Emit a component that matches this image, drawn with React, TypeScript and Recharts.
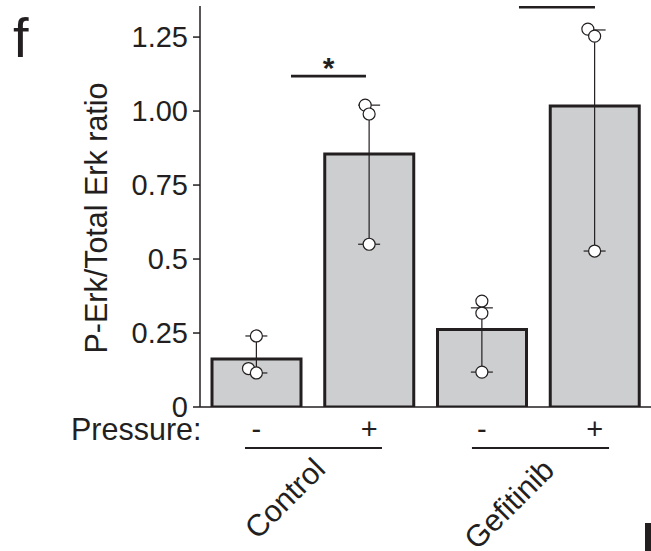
import {
  Bar,
  ComposedChart,
  Customized,
  ErrorBar,
  ReferenceLine,
  Scatter,
  XAxis,
  YAxis,
} from "recharts";

const INK = "#231f20";
const BAR_FILL = "#cdcecf";
const FONT = "'Liberation Sans', Arial, Helvetica, sans-serif";

// bars: category keys, their pressure labels and numeric positions
const categories = ["Control -", "Control +", "Gefitinib -", "Gefitinib +"];
const pressureLabels = ["-", "+", "-", "+"];
const positions = [0, 1, 2, 3];

// bar means and error ranges
const means = [0.162, 0.855, 0.262, 1.017];
const rangeLow = [0.115, 0.55, 0.118, 0.527];
const rangeHigh = [0.24, 1.02, 0.335, 1.274];

// individual replicates (x = bar position with a little jitter)
const pointX = [0, -0.07, 0, 0.965, 1, 1, 2, 2, 2, 2.94, 3, 3];
const pointY = [0.24, 0.13, 0.115, 1.02, 0.99, 0.55, 0.358, 0.317, 0.118, 1.277, 1.253, 0.527];

const yTicks = [0, 0.25, 0.5, 0.75, 1, 1.25];
const yTickLabels = ["0", "0.25", "0.5", "0.75", "1.00", "1.25"];

// significance bars
const sigStart = [0.307, 2.329];
const sigEnd = [0.972, 3.003];
const sigLevel = [1.118, 1.351];
const sigMarks = ["*", ""];

// group underlines
const groupNames = ["Control", "Gefitinib"];
const groupStart = [-0.101, 1.912];
const groupEnd = [1.114, 3.128];
const groupLevel = -0.1385;

const rows = categories.map((cat, i) => ({
  cat,
  pos: positions[i],
  mean: means[i],
  err: [means[i] - rangeLow[i], rangeHigh[i] - means[i]],
}));

const points = pointX.map((pos, i) => ({ pos, val: pointY[i] }));

function Annotations() {
  return (
    <g fontFamily={FONT} fill={INK}>
      <text x={13} y={57} fontSize={56}>
        f
      </text>
      <text
        x={107}
        y={218}
        fontSize={30.5}
        textAnchor="middle"
        transform="rotate(-90 107 218)"
      >
        P-Erk/Total Erk ratio
      </text>
      <text x={71} y={440} fontSize={30.5}>
        Pressure:
      </text>
      <text x={327} y={471} fontSize={30.5} textAnchor="end" transform="rotate(-45 327 471)">
        {groupNames[0]}
      </text>
      <text x={556} y={472} fontSize={30.5} textAnchor="end" transform="rotate(-45 556 472)">
        {groupNames[1]}
      </text>
      <rect x={645} y={523} width={6} height={28} fill={INK} />
    </g>
  );
}

export default function App() {
  return (
    <div style={{ position: "absolute", left: 0, top: 0, width: 651, height: 551, background: "#fff" }}>
      <ComposedChart
        width={651}
        height={551}
        data={rows}
        margin={{ top: 6, right: 0, bottom: 0, left: 0 }}
      >
        <XAxis
          xAxisId="cat"
          dataKey="cat"
          type="category"
          interval={0}
          height={144}
          tickSize={0}
          tickMargin={11}
          tickFormatter={(v: string) => pressureLabels[categories.indexOf(v)] ?? ""}
          tick={{ fill: INK, fontSize: 29, fontFamily: FONT }}
          axisLine={{ stroke: INK, strokeWidth: 1.5 }}
          tickLine={false}
        />
        <XAxis
          xAxisId="num"
          dataKey="pos"
          type="number"
          domain={[-0.5, 3.5]}
          allowDataOverflow
          hide
        />
        <YAxis
          width={200}
          domain={[0, 1.355]}
          ticks={yTicks}
          interval={0}
          allowDataOverflow
          tickSize={7}
          tickMargin={5}
          tickFormatter={(v: number) => yTickLabels[yTicks.indexOf(v)] ?? ""}
          tick={{ fill: INK, fontSize: 29, fontFamily: FONT }}
          axisLine={{ stroke: INK, strokeWidth: 1.5 }}
          tickLine={{ stroke: INK, strokeWidth: 1.5 }}
        />
        <Bar
          xAxisId="cat"
          dataKey="mean"
          barSize={89}
          fill={BAR_FILL}
          stroke={INK}
          strokeWidth={3}
          isAnimationActive={false}
        />
        <Scatter
          xAxisId="num"
          data={points}
          dataKey="val"
          isAnimationActive={false}
          shape={(p: any) => (
            <circle cx={p.cx} cy={p.cy} r={6} fill="#fff" stroke={INK} strokeWidth={1.2} />
          )}
        />
        <Scatter
          xAxisId="num"
          data={rows}
          dataKey="mean"
          isAnimationActive={false}
          shape={() => <g />}
        >
          <ErrorBar dataKey="err" direction="y" width={11} stroke={INK} strokeWidth={1.2} />
        </Scatter>
        {sigStart.map((s, i) => (
          <ReferenceLine
            key={`sig-${i}`}
            xAxisId="num"
            segment={[
              { x: s, y: sigLevel[i] },
              { x: sigEnd[i], y: sigLevel[i] },
            ]}
            stroke={INK}
            strokeWidth={2.6}
            ifOverflow="visible"
            label={
              sigMarks[i]
                ? {
                    value: sigMarks[i],
                    position: "top",
                    offset: -2,
                    fontSize: 30,
                    fontWeight: "bold",
                    fill: INK,
                    fontFamily: FONT,
                  }
                : undefined
            }
          />
        ))}
        {groupStart.map((s, i) => (
          <ReferenceLine
            key={`grp-${i}`}
            xAxisId="num"
            segment={[
              { x: s, y: groupLevel },
              { x: groupEnd[i], y: groupLevel },
            ]}
            stroke={INK}
            strokeWidth={2.2}
            ifOverflow="visible"
          />
        ))}
        <Customized component={Annotations} />
      </ComposedChart>
    </div>
  );
}
